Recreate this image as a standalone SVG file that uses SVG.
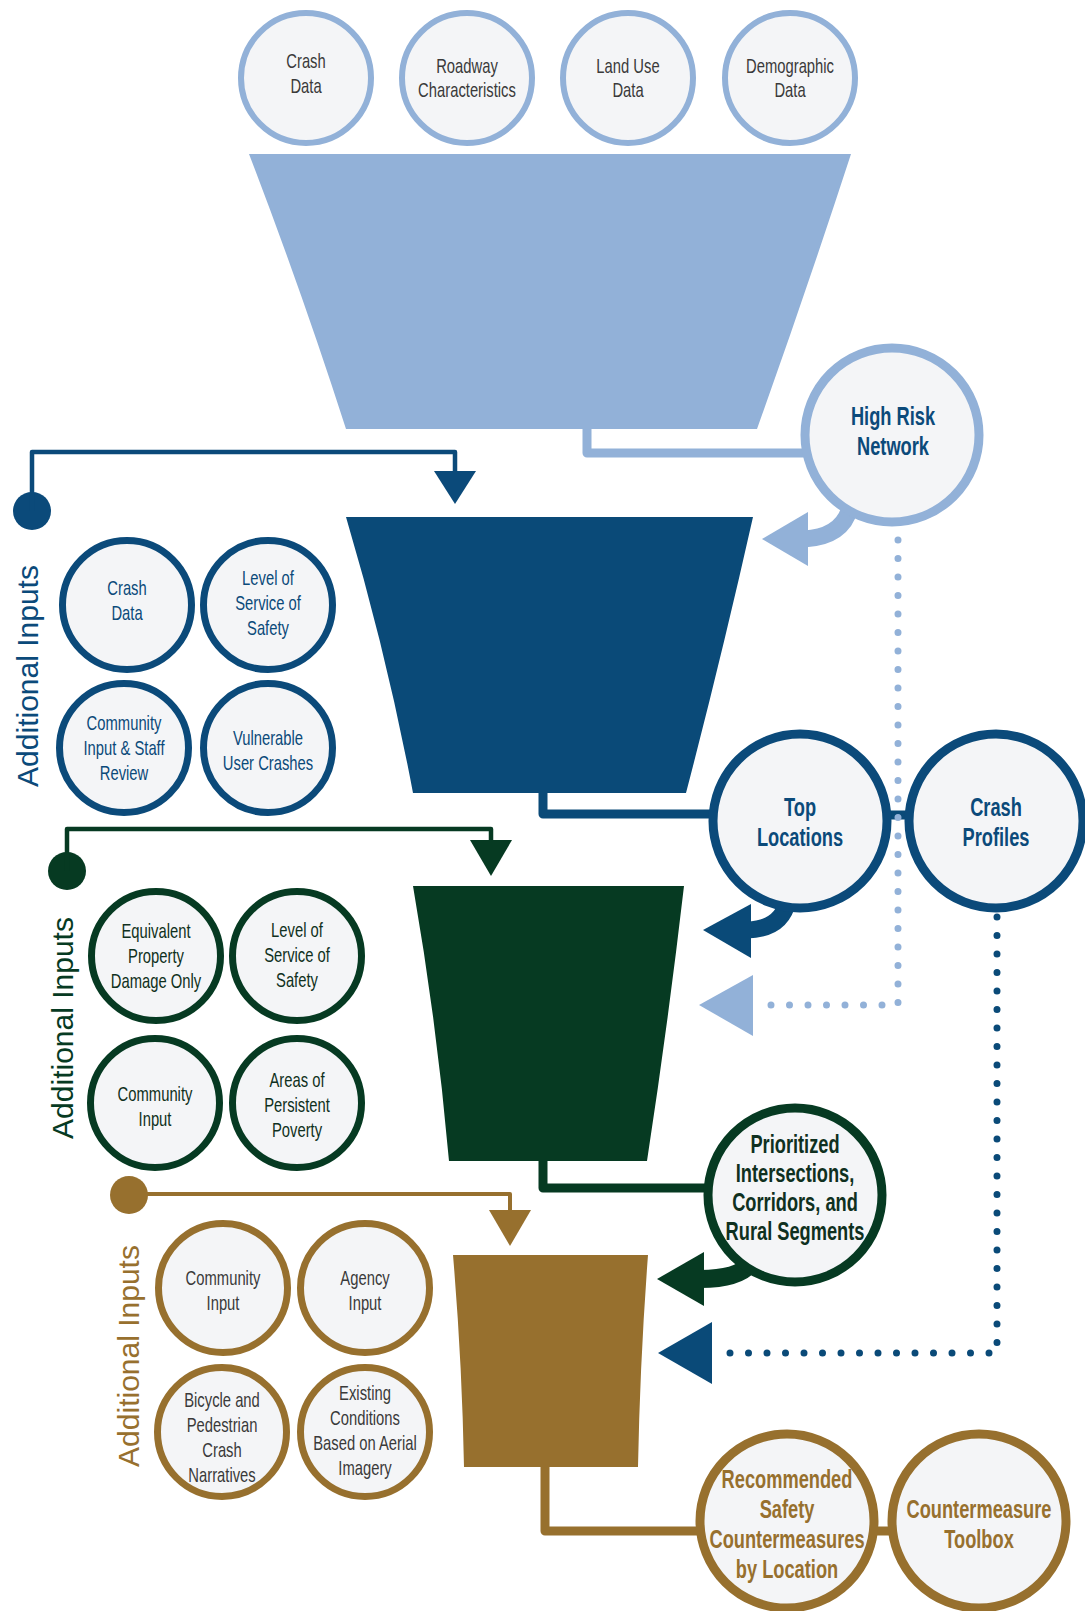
<svg xmlns="http://www.w3.org/2000/svg" width="1085" height="1611" viewBox="0 0 1085 1611">
  <style>
    .node-lb { fill: #f4f5f7; stroke: #92b1d8; stroke-width: 6; }
    .node-db { fill: #f4f5f7; stroke: #0b4a7a; stroke-width: 7; }
    .node-gr { fill: #f4f5f7; stroke: #063a22; stroke-width: 7; }
    .node-go { fill: #f4f5f7; stroke: #97702e; stroke-width: 7; }
    .out { stroke-width: 9; }
    .lbl { font-family: "Liberation Sans", Arial, sans-serif; font-size: 20px; text-anchor: middle; }
    .big { font-family: "Liberation Sans", Arial, sans-serif; font-size: 25px; font-weight: bold; text-anchor: middle; }
    .side { font-family: "Liberation Sans", Arial, sans-serif; font-size: 30px; text-anchor: middle; }
    .gray { fill: #3a3a3a; }
    .tb { fill: #0b4a7a; }
    .tg { fill: #0f3020; }
    .tgo { fill: #97702e; }
    .wire { fill: none; stroke-linejoin: round; stroke-linecap: butt; }
    .dots { fill: none; stroke-width: 7; stroke-linecap: round; stroke-dasharray: 0 18.5; }
  </style>

  <!-- funnel stages -->
  <g id="stages">
    <path id="stage-1" d="M 249 154 L 851 154 Q 806 292 757 429 L 346 429 Q 302 292 249 154 Z" fill="#92b1d8"/>
    <path id="stage-2" d="M 346 517 L 753 517 Q 722 655 686 793 L 413 793 Q 387 655 346 517 Z" fill="#0a4a78"/>
    <path id="stage-3" d="M 413 886 L 684 886 Q 668 1024 647 1161 L 449 1161 Q 437 1024 413 886 Z" fill="#063a22"/>
    <path id="stage-4" d="M 453 1255 L 648 1255 Q 640 1361 638 1467 L 464 1467 Q 462 1361 453 1255 Z" fill="#97702e"/>
  </g>

  <!-- connectors -->
  <g id="connectors">
    <!-- stage outputs -->
    <path class="wire" d="M 587 429 V 453 H 810" stroke="#92b1d8" stroke-width="9"/>
    <path class="wire" d="M 543 793 V 814 H 715" stroke="#0a4a78" stroke-width="9"/>
    <path class="wire" d="M 543 1161 V 1188 H 710" stroke="#063a22" stroke-width="9"/>
    <path class="wire" d="M 545 1467 V 1531 H 700" stroke="#97702e" stroke-width="9"/>
    <path class="wire" d="M 885 815 H 910" stroke="#0a4a78" stroke-width="9"/>
    <path class="wire" d="M 875 1531 H 892" stroke="#97702e" stroke-width="9"/>

    <!-- additional inputs feeds -->
    <circle cx="32" cy="511" r="19" fill="#0b4a7a"/>
    <path class="wire" d="M 32 511 V 452 H 455 V 476" stroke="#0b4a7a" stroke-width="4.5"/>
    <polygon points="434,471 476,471 455,504" fill="#0b4a7a"/>

    <circle cx="67" cy="871" r="19" fill="#063a22"/>
    <path class="wire" d="M 67 871 V 829 H 491 V 845" stroke="#063a22" stroke-width="4.5"/>
    <polygon points="470,840 512,840 491,876" fill="#063a22"/>

    <circle cx="129" cy="1195" r="19" fill="#97702e"/>
    <path class="wire" d="M 129 1194 H 510 V 1215" stroke="#97702e" stroke-width="4"/>
    <polygon points="489,1210 531,1210 510,1246" fill="#97702e"/>

    <!-- feedback arrows -->
    <path class="wire" d="M 850 508 Q 842 537 804 539" stroke="#92b1d8" stroke-width="17"/>
    <polygon points="762,539 808,512 808,566" fill="#92b1d8"/>

    <path class="wire" d="M 788 900 Q 782 929 747 930" stroke="#0a4a78" stroke-width="17"/>
    <polygon points="703,930 751,904 751,958" fill="#0a4a78"/>

    <path class="wire" d="M 752 1262 Q 740 1279 700 1279" stroke="#063a22" stroke-width="18"/>
    <polygon points="657,1279 704,1252 704,1306" fill="#063a22"/>

    <!-- dotted carry-over links -->
    <path class="dots" d="M 898 540 V 1005 H 762" stroke="#92b1d8"/>
    <polygon points="699,1005 753,975 753,1036" fill="#92b1d8"/>

    <path class="dots" d="M 997 917 V 1353 H 722" stroke="#0a4a78"/>
    <polygon points="658,1353 712,1322 712,1384" fill="#0a4a78"/>
  </g>

  <!-- data sources -->
  <g id="src-crash">
    <circle class="node-lb" cx="306" cy="78" r="65"/>
    <text class="lbl gray" transform="translate(306 0) scale(0.74 1)"><tspan x="0" y="68">Crash</tspan><tspan x="0" y="93">Data</tspan></text>
  </g>
  <g id="src-roadway">
    <circle class="node-lb" cx="467" cy="78" r="65"/>
    <text class="lbl gray" transform="translate(467 0) scale(0.74 1)"><tspan x="0" y="73">Roadway</tspan><tspan x="0" y="97">Characteristics</tspan></text>
  </g>
  <g id="src-landuse">
    <circle class="node-lb" cx="628" cy="78" r="65"/>
    <text class="lbl gray" transform="translate(628 0) scale(0.74 1)"><tspan x="0" y="73">Land Use</tspan><tspan x="0" y="97">Data</tspan></text>
  </g>
  <g id="src-demographic">
    <circle class="node-lb" cx="790" cy="78" r="65"/>
    <text class="lbl gray" transform="translate(790 0) scale(0.74 1)"><tspan x="0" y="73">Demographic</tspan><tspan x="0" y="97">Data</tspan></text>
  </g>

  <!-- outputs -->
  <g id="high-risk-network">
    <circle class="node-lb out" cx="892" cy="435" r="87"/>
    <text class="big tb" transform="translate(893 0) scale(0.73 1)"><tspan x="0" y="425">High Risk</tspan><tspan x="0" y="455">Network</tspan></text>
  </g>
  <g id="top-locations">
    <circle class="node-db out" cx="800" cy="821" r="87"/>
    <text class="big tb" transform="translate(800 0) scale(0.73 1)"><tspan x="0" y="816">Top</tspan><tspan x="0" y="846">Locations</tspan></text>
  </g>
  <g id="crash-profiles">
    <circle class="node-db out" cx="996" cy="821" r="87"/>
    <text class="big tb" transform="translate(996 0) scale(0.73 1)"><tspan x="0" y="816">Crash</tspan><tspan x="0" y="846">Profiles</tspan></text>
  </g>
  <g id="prioritized">
    <circle class="node-gr out" cx="795" cy="1195" r="87"/>
    <text class="big tg" transform="translate(795 0) scale(0.73 1)"><tspan x="0" y="1153">Prioritized</tspan><tspan x="0" y="1182">Intersections,</tspan><tspan x="0" y="1211">Corridors, and</tspan><tspan x="0" y="1240">Rural Segments</tspan></text>
  </g>
  <g id="recommended">
    <circle class="node-go out" cx="787" cy="1521" r="87"/>
    <text class="big tgo" transform="translate(787 0) scale(0.73 1)"><tspan x="0" y="1488">Recommended</tspan><tspan x="0" y="1518">Safety</tspan><tspan x="0" y="1548">Countermeasures</tspan><tspan x="0" y="1578">by Location</tspan></text>
  </g>
  <g id="toolbox">
    <circle class="node-go out" cx="979" cy="1521" r="87"/>
    <text class="big tgo" transform="translate(979 0) scale(0.73 1)"><tspan x="0" y="1518">Countermeasure</tspan><tspan x="0" y="1548">Toolbox</tspan></text>
  </g>

  <!-- stage 2 inputs -->
  <g id="inputs-2-label"><text class="side tb" transform="translate(38 676) rotate(-90)">Additional Inputs</text></g>
  <g id="in2-crash">
    <circle class="node-db" cx="127" cy="605" r="64.5"/>
    <text class="lbl tb" transform="translate(127 0) scale(0.74 1)"><tspan x="0" y="595">Crash</tspan><tspan x="0" y="620">Data</tspan></text>
  </g>
  <g id="in2-loss">
    <circle class="node-db" cx="268" cy="605" r="64.5"/>
    <text class="lbl tb" transform="translate(268 0) scale(0.74 1)"><tspan x="0" y="585">Level of</tspan><tspan x="0" y="610">Service of</tspan><tspan x="0" y="635">Safety</tspan></text>
  </g>
  <g id="in2-community">
    <circle class="node-db" cx="124" cy="748" r="64.5"/>
    <text class="lbl tb" transform="translate(124 0) scale(0.74 1)"><tspan x="0" y="730">Community</tspan><tspan x="0" y="755">Input &amp; Staff</tspan><tspan x="0" y="780">Review</tspan></text>
  </g>
  <g id="in2-vulnerable">
    <circle class="node-db" cx="268" cy="748" r="64.5"/>
    <text class="lbl tb" transform="translate(268 0) scale(0.74 1)"><tspan x="0" y="745">Vulnerable</tspan><tspan x="0" y="770">User Crashes</tspan></text>
  </g>

  <!-- stage 3 inputs -->
  <g id="inputs-3-label"><text class="side tg" transform="translate(73 1028) rotate(-90)" style="fill:#063a22">Additional Inputs</text></g>
  <g id="in3-epdo">
    <circle class="node-gr" cx="156" cy="956" r="64.5"/>
    <text class="lbl tg" transform="translate(156 0) scale(0.74 1)"><tspan x="0" y="938">Equivalent</tspan><tspan x="0" y="963">Property</tspan><tspan x="0" y="988">Damage Only</tspan></text>
  </g>
  <g id="in3-loss">
    <circle class="node-gr" cx="297" cy="956" r="64.5"/>
    <text class="lbl tg" transform="translate(297 0) scale(0.74 1)"><tspan x="0" y="937">Level of</tspan><tspan x="0" y="962">Service of</tspan><tspan x="0" y="987">Safety</tspan></text>
  </g>
  <g id="in3-community">
    <circle class="node-gr" cx="155" cy="1103" r="64.5"/>
    <text class="lbl tg" transform="translate(155 0) scale(0.74 1)"><tspan x="0" y="1101">Community</tspan><tspan x="0" y="1126">Input</tspan></text>
  </g>
  <g id="in3-poverty">
    <circle class="node-gr" cx="297" cy="1103" r="64.5"/>
    <text class="lbl tg" transform="translate(297 0) scale(0.74 1)"><tspan x="0" y="1087">Areas of</tspan><tspan x="0" y="1112">Persistent</tspan><tspan x="0" y="1137">Poverty</tspan></text>
  </g>

  <!-- stage 4 inputs -->
  <g id="inputs-4-label"><text class="side tgo" transform="translate(139 1356) rotate(-90)">Additional Inputs</text></g>
  <g id="in4-community">
    <circle class="node-go" cx="223" cy="1288" r="64.5"/>
    <text class="lbl gray" transform="translate(223 0) scale(0.74 1)"><tspan x="0" y="1285">Community</tspan><tspan x="0" y="1310">Input</tspan></text>
  </g>
  <g id="in4-agency">
    <circle class="node-go" cx="365" cy="1288" r="64.5"/>
    <text class="lbl gray" transform="translate(365 0) scale(0.74 1)"><tspan x="0" y="1285">Agency</tspan><tspan x="0" y="1310">Input</tspan></text>
  </g>
  <g id="in4-bikeped">
    <circle class="node-go" cx="222" cy="1432" r="64.5"/>
    <text class="lbl gray" transform="translate(222 0) scale(0.74 1)"><tspan x="0" y="1407">Bicycle and</tspan><tspan x="0" y="1432">Pedestrian</tspan><tspan x="0" y="1457">Crash</tspan><tspan x="0" y="1482">Narratives</tspan></text>
  </g>
  <g id="in4-existing">
    <circle class="node-go" cx="365" cy="1432" r="64.5"/>
    <text class="lbl gray" transform="translate(365 0) scale(0.74 1)"><tspan x="0" y="1400">Existing</tspan><tspan x="0" y="1425">Conditions</tspan><tspan x="0" y="1450">Based on Aerial</tspan><tspan x="0" y="1475">Imagery</tspan></text>
  </g>
</svg>
